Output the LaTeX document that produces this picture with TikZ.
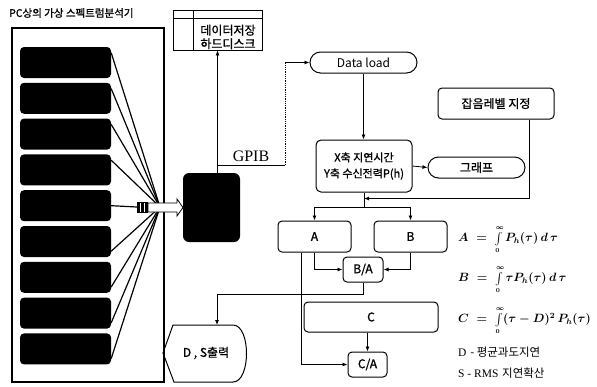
\documentclass[tikz,border=0pt]{standalone}
\usepackage{fontspec}
\usepackage{amsmath,bm}
\usetikzlibrary{arrows.meta,calc}
\newfontfamily\kr{Noto Sans CJK KR}
\newfontfamily\krb[FakeBold=1.2]{Noto Sans CJK KR}
\newfontfamily\serifT{Liberation Serif}
\newcommand{\myint}{\int\limits_{\scriptscriptstyle 0}^{\scriptscriptstyle \infty}}
\tikzset{
  box/.style={draw, line width=1pt, rounded corners=4pt, inner sep=0pt,
              font=\krb\fontsize{12}{14}\selectfont},
  term/.style={draw, line width=1pt, rounded corners=10.5pt, inner sep=0pt,
              minimum height=21pt, font=\kr\fontsize{12}{14}\selectfont},
  blk/.style={fill=black, rounded corners=4pt, minimum width=91pt,
              minimum height=31pt, inner sep=0pt},
  arr/.style={-{Latex[length=5pt,width=4pt]}, line width=0.8pt},
  ln/.style={line width=0.8pt},
  wire/.style={line width=1.2pt},
  formula/.style={anchor=west, inner sep=0pt, font=\fontsize{11.5}{13}\selectfont\boldmath},
  note/.style={anchor=west, inner sep=0pt, font=\fontsize{11.5}{13}\selectfont}
}
\begin{document}
\begin{tikzpicture}[x=1pt,y=-1pt]
\useasboundingbox[fill=white] (0,0) rectangle (597,386);

% title
\node[anchor=west, inner sep=0pt, font=\krb\fontsize{10.5}{12}\selectfont] (title) at (9,13) {PC상의 가상 스펙트럼분석기};

% frame
\node[draw, line width=2pt, minimum width=152pt, minimum height=354pt, inner sep=0pt] (frame) at (88,205) {};

% black boxes
\foreach \i in {1,...,9} {
  \node[blk] (b\i) at (65.5, {62.5+(\i-1)*35.8}) {};
}
\coordinate (hub) at (160,207);
\foreach \i in {1,2,3,4} {
  \draw[wire] ($(b\i.north east)+(0,6)$) -- (hub);
}
\foreach \i in {6,7,8,9} {
  \draw[wire] ($(b\i.south east)+(0,-6)$) -- (hub);
}
\draw[wire] (b5.east) -- (137,207);

% device
\node[fill=black, rounded corners=6pt, minimum width=57pt, minimum height=69pt, inner sep=0pt] (pcb) at (211.5,207.5) {};

% plug
\fill (137,202) rectangle (148,213);
\fill[white] (140,203) rectangle (141,212);
\fill[white] (144,203) rectangle (145,212);
\draw[fill=white, line width=0.8pt] (148,203) -- (177,203) -- (177,199) -- (183,207.5) -- (177,216) -- (177,212) -- (148,212) -- cycle;

% hard disk
\node[draw, line width=0.8pt, minimum width=89pt, minimum height=40pt, inner sep=0pt] (hd) at (217.5,30) {};
\draw[line width=0.8pt] (173,18) -- (262,18);
\draw[line width=0.8pt] (193,10) -- (193,50);
\node[align=center, inner sep=0pt, font=\krb\fontsize{12}{13.5}\selectfont] (hdt) at (228,37) {데이터저장\\하드디스크};

% GPIB
\node[inner sep=0pt, font=\serifT\fontsize{16}{18}\selectfont] (gpib) at (251,156) {GPIB};
\draw[arr] (pcb.north -| hd.south) -- (hd.south);
\coordinate (g1) at (217.5,165);
\coordinate (g2) at (285,165);
\coordinate (g3) at (285,62.5);

% flow nodes
\node[term, minimum width=107pt] (dl) at (363.5,62.5) {Data load};
\node[box, minimum width=96pt, minimum height=52pt, rounded corners=5pt, align=center,
      font=\krb\fontsize{11}{16}\selectfont] (xb) at (364,166) {X축 지연시간\\Y축 수신전력P(h)};
\node[term, minimum width=97pt, font=\krb\fontsize{12}{14}\selectfont] (gr) at (476.5,167.5) {그래프};
\node[box, minimum width=116pt, minimum height=31pt] (nz) at (496,103.5) {잡음레벨 지정};
\node[box, minimum width=73pt, minimum height=31pt] (A) at (314.5,236.5) {A};
\node[box, minimum width=73pt, minimum height=31pt] (B) at (410.5,236.5) {B};
\node[box, minimum width=40pt, minimum height=25pt] (BA) at (363,269.5) {B/A};
\node[box, minimum width=134pt, minimum height=30pt] (C) at (371,317) {C};
\node[box, minimum width=39pt, minimum height=25pt] (CA) at (367.5,364.5) {C/A};

% D,S output
\draw[line width=1pt] (163,353) -- (173,325) -- (233,325) .. controls (251,325) and (251,382) .. (233,382) -- (174,382) -- cycle;
\node[inner sep=0pt, font=\krb\fontsize{12}{14}\selectfont] (ds) at (206,353) {D , S출력};
\coordinate (dsin) at (217,325);

% connectors
\draw[ln] (g1) -- (g2);
\draw[ln, densely dotted] (g2) -- (g3);
\draw[arr] (g3) -- (dl.west);
\draw[arr] (dl.south) -- (xb.north -| dl.south);
\draw[arr] (xb.east) -- (gr.west);
\coordinate (split) at ($(xb.south)+(0,15)$);
\coordinate (jn) at ($(xb.south)+(0,6)$);
\draw[ln] (xb.south) -- (split);
\draw[arr] (split) -| (A.north);
\draw[arr] (split) -| (B.north);
\draw[arr] ($(nz.south)+(33,0)$) |- (jn);
\draw[arr] (A.south) |- (BA.west);
\draw[arr] (B.south) |- (BA.east);
\draw[arr] ($(A.south)+(-13,0)$) |- (CA.west);
\draw[arr] (BA.south) -- ++(0,12) -| (dsin);
\draw[arr] (CA.north |- C.south) -- (CA.north);

% formulas
\node[formula] (fa) at (458,240) {$A \;=\; \myint P_h(\tau)\,d\,\tau$};
\node[formula] (fb) at (458,280) {$B \;=\; \myint \tau P_h(\tau)\,d\,\tau$};
\node[formula] (fc) at (458,321) {$C \;=\; \myint (\tau - D)^2\,P_h(\tau)$};
\node[note] (nd) at (458,352) {{\serifT D} {\kr - 평균과도지연}};
\node[note] (ns) at (458,373) {{\serifT S - RMS} {\kr 지연확산}};
\end{tikzpicture}
\end{document}
